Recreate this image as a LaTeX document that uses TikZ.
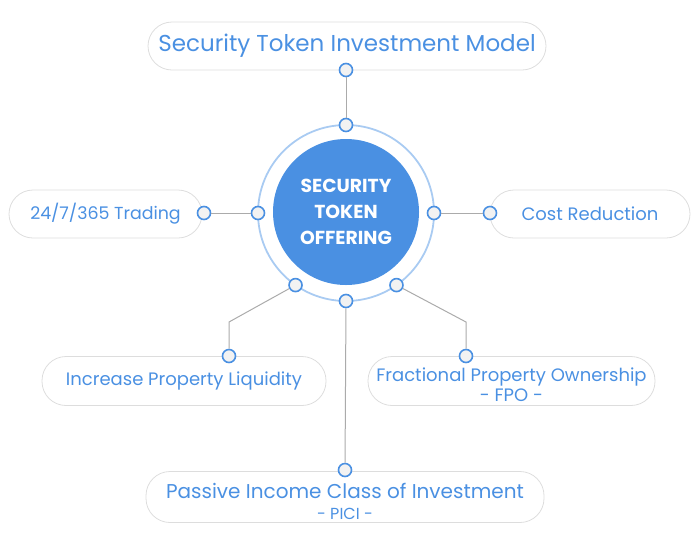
\documentclass[tikz,border=0pt]{standalone}
\usepackage{fontspec}
\setmainfont{Poppins}
\usetikzlibrary{positioning}

\definecolor{tokenblue}{HTML}{4A90E2}
\definecolor{ringblue}{HTML}{A9CBF2}
\definecolor{pillgray}{HTML}{DDDDDD}
\definecolor{wiregray}{HTML}{ABABAB}
\definecolor{dotfill}{HTML}{F2F2F2}

\tikzset{
  pill/.style={draw=pillgray, line width=0.8pt, rounded corners=24pt,
    minimum height=48pt, text=tokenblue, align=center, inner sep=0pt,
    font=\fontsize{18}{20}\selectfont},
  dot/.style={circle, draw=tokenblue, fill=dotfill, line width=1.6pt,
    minimum size=13pt, inner sep=0pt},
  wire/.style={draw=wiregray, line width=1pt},
}

\begin{document}
\begin{tikzpicture}[x=1pt,y=-1pt]
	\useasboundingbox (0,0) rectangle (700,550);

	\node[circle, fill=tokenblue, minimum size=146pt, text=white, align=center,
	      font=\bfseries\fontsize{18.8}{26}\selectfont] (sto) at (346,212) {SECURITY\\TOKEN\\OFFERING};
	\node[circle, draw=ringblue, line width=1.8pt, minimum size=176pt, outer sep=0pt] (ring) at (346,213) {};

	\node[pill, minimum width=398pt, font=\fontsize{23}{26}\selectfont] (model) at (347,46) {Security Token Investment Model};
	\node[pill, minimum width=193pt, font=\fontsize{17.4}{20}\selectfont] (trading) at (105.5,214) {24/7/365 Trading};
	\node[pill, minimum width=200pt] (cost) at (590,214) {Cost Reduction};
	\node[pill, minimum width=284pt, minimum height=49pt] (liquidity) at (184,381) {Increase Property Liquidity};
	\node[pill, minimum width=287pt, minimum height=49pt, font=\fontsize{18}{20}\selectfont] (fpo) at (511.5,381)
	     {\rule{0pt}{22pt}Fractional Property Ownership\\- FPO -};
	\node[pill, minimum width=398pt, minimum height=51pt, font=\fontsize{20}{21}\selectfont] (pici) at (345,497)
	     {\rule{0pt}{24pt}Passive Income Class of Investment\\{\fontsize{16}{16}\selectfont - PICI -}};

	% dots on the ring
	\node[dot] (ring_n) at (ring.north) {};
	\node[dot] (ring_w) at (ring.west) {};
	\node[dot] (ring_e) at (ring.east) {};
	\node[dot] (ring_s) at (ring.south) {};
	\node[dot] (ring_sw) at (ring.-125) {};
	\node[dot] (ring_se) at (ring.-55) {};

	% dots on the pills
	\node[dot] (model_d) at (346,70) {};
	\node[dot] (trading_d) at (204,213) {};
	\node[dot] (cost_d) at (490,213) {};
	\node[dot] (liquidity_d) at (229,356) {};
	\node[dot] (fpo_d) at (466,356) {};
	\node[dot] (pici_d) at (345,470) {};

	\coordinate (liquidity_bend) at (229,322);
	\coordinate (fpo_bend) at (466,322);

	\path[wire]
	(ring_n) edge (model_d)
	(ring_w) edge (trading_d)
	(ring_e) edge (cost_d)
	(ring_s) edge (pici_d);
	\draw[wire] (ring_sw) -- (liquidity_bend) -- (liquidity_d);
	\draw[wire] (ring_se) -- (fpo_bend) -- (fpo_d);
\end{tikzpicture}
\end{document}
